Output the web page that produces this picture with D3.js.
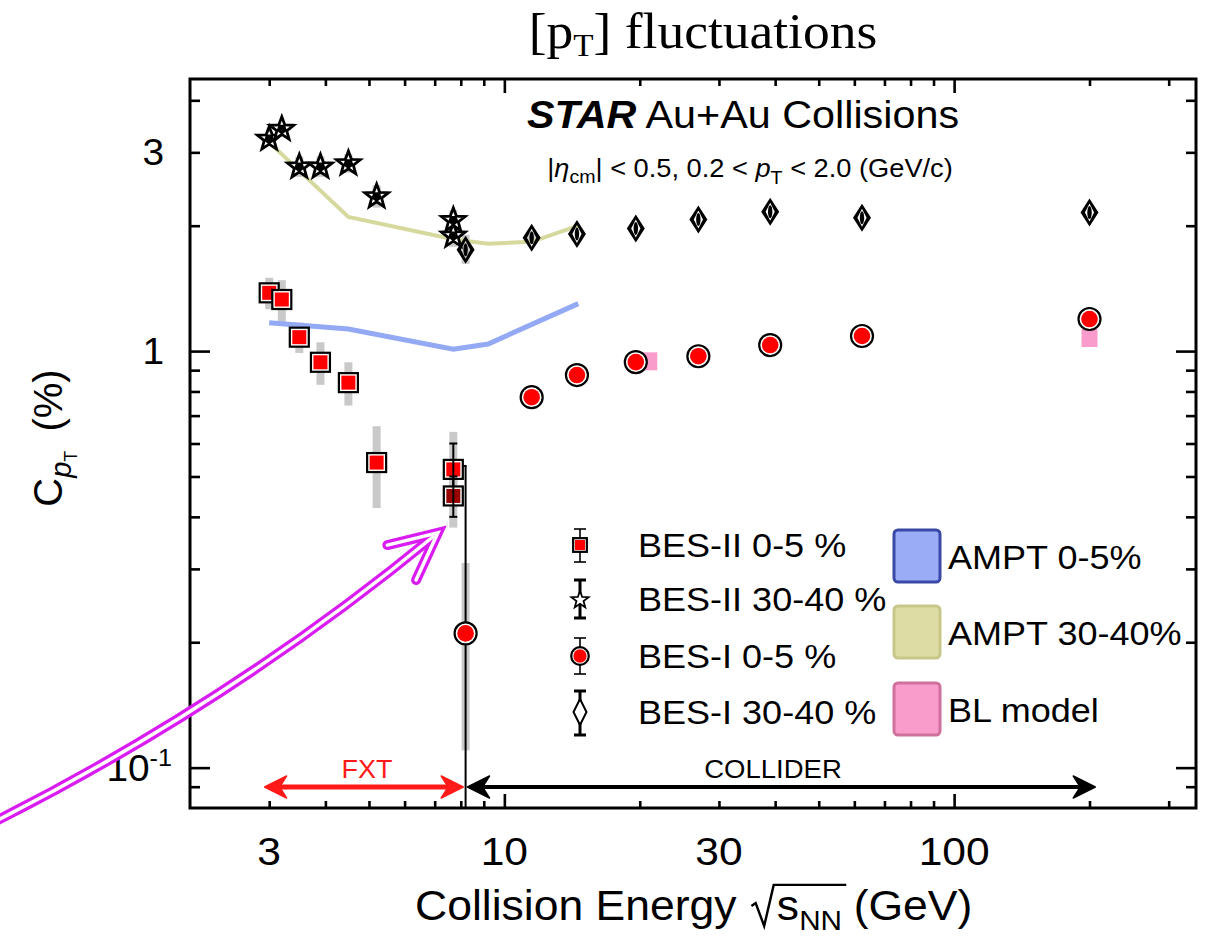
<!DOCTYPE html>
<html><head><meta charset="utf-8">
<script src="https://cdn.jsdelivr.net/npm/d3@7"></script>
<style>
body{margin:0;background:#fff}
svg{display:block}
text{font-family:"Liberation Sans",Arial,sans-serif;fill:#000}
</style>
</head><body>
<svg id="chart" width="1212" height="936"></svg>
<script>
// ---- data -------------------------------------------------------------
// BES-II 0-5 % (fixed target + 7.7 GeV)
const besII05_E   = [3.0, 3.2, 3.5, 3.9, 4.5, 5.2, 7.7];
const besII05_C   = [1.38, 1.33, 1.08, 0.94, 0.84, 0.54, 0.52];
const besII05_sysLo = [1.26, 1.17, 0.99, 0.83, 0.74, 0.42, 0.46];
const besII05_sysHi = [1.50, 1.48, 1.17, 1.05, 0.94, 0.66, 0.64];
const besII05_statLo = [null, null, null, null, null, null, 0.45];
const besII05_statHi = [null, null, null, null, null, null, 0.60];
// BES-II 0-5 % collider 7.7 GeV
const besII05col_E = [7.7];
const besII05col_C = [0.449];
const besII05col_sysLo = [0.377];
const besII05col_sysHi = [0.52];
const besII05col_statLo = [0.40];
const besII05col_statHi = [0.50];
// BES-II 30-40 %
const besII3040_E = [3.0, 3.2, 3.5, 3.9, 4.5, 5.2, 7.7, 7.7];
const besII3040_C = [3.23, 3.41, 2.77, 2.77, 2.82, 2.35, 2.06, 1.89];
const besII3040_sysLo = [3.15, 3.33, 2.62, 2.62, 2.68, 2.21, 1.94, 1.78];
const besII3040_sysHi = [3.32, 3.50, 2.93, 2.93, 2.97, 2.50, 2.18, 2.00];
// BES-I
const besI_E      = [8.2, 11.5, 14.5, 19.6, 27, 39, 62.4, 200];
const besI05_C    = [0.21, 0.775, 0.876, 0.941, 0.972, 1.034, 1.087, 1.194];
const besI05_sysLo = [0.11, null, null, null, null, null, null, null];
const besI05_sysHi = [0.31, null, null, null, null, null, null, null];
const besI05_statHi = [0.53, null, null, null, null, null, null, null];
const besI3040_C  = [1.75, 1.87, 1.91, 1.97, 2.07, 2.16, 2.09, 2.15];
const besI3040_sysLo = [1.62, 1.82, null, null, null, null, null, null];
const besI3040_sysHi = [1.90, 1.92, null, null, null, null, null, null];
// models
const ampt05_E   = [3.0, 4.5, 7.7, 9.2, 14.6];
const ampt05_C   = [1.17, 1.13, 1.01, 1.04, 1.30];
const ampt3040_E = [3.0, 4.5, 7.7, 9.2, 11.5, 14.6];
const ampt3040_C = [3.17, 2.10, 1.855, 1.81, 1.83, 2.0];
const bl_E = [21, 200];
const bl_C = [0.945, 1.075];
// axes
const xMinorTicks = [3,4,5,6,7,8,9,20,30,40,50,60,70,80,90,200,300];
const xMajorTicks = [10,100];
const xTickLabels = [3,10,30,100];
const yMinorTicks = [0.09,0.2,0.3,0.4,0.5,0.6,0.7,0.8,0.9,2,3,4];
const yMajorTicks = [0.1,1];
const yTickLabels = [["3",3],["1",1],["10","-1",0.1]];
const legendData = ["BES-II 0-5 %","BES-II 30-40 %","BES-I 0-5 %","BES-I 30-40 %"];
const legendModels = [["AMPT 0-5%","#9aacf6","#3a48a6"],["AMPT 30-40%","#dcdca4","#c7c78a"],["BL model","#f99ccb","#d0709c"]];

// ---- layout -----------------------------------------------------------
const L=190, R=1196, T=79, B=808;
const x = d3.scaleLog().domain([2,345]).range([L,R]);
const y = d3.scaleLog().domain([0.08,4.5]).range([B,T]);
const svg = d3.select("#chart");
const plot = svg.append("g");

const RED="#ff0000", DARKRED="#990000", GREY="#c9c9c9";

// text placed at (px,py), widened horizontally by sx
function stext(parent,px,py,sx,size,anchor){
  return parent.append("g").attr("transform",`translate(${px},${py}) scale(${sx},1)`)
    .append("text").attr("x",0).attr("y",0).attr("font-size",size).attr("text-anchor",anchor||"start");
}

// systematic bars
function sysBars(E, lo, hi){
  E.forEach((e,i)=>{
    if(lo[i]==null) return;
    plot.append("rect").attr("x",x(e)-4).attr("width",8)
      .attr("y",y(hi[i])).attr("height",y(lo[i])-y(hi[i])).attr("fill",GREY);
  });
}
sysBars(besII05_E,besII05_sysLo,besII05_sysHi);
sysBars(besII05col_E,besII05col_sysLo,besII05col_sysHi);
sysBars(besII3040_E,besII3040_sysLo,besII3040_sysHi);
sysBars(besI_E,besI05_sysLo,besI05_sysHi);
sysBars(besI_E,besI3040_sysLo,besI3040_sysHi);

// model curves
const line = d3.line().x(d=>x(d[0])).y(d=>y(d[1]));
plot.append("path").attr("d",line(d3.zip(ampt3040_E,ampt3040_C)))
  .attr("fill","none").attr("stroke","#d6d99e").attr("stroke-width",4);
plot.append("path").attr("d",line(d3.zip(ampt05_E,ampt05_C)))
  .attr("fill","none").attr("stroke","#93a9f3").attr("stroke-width",5);
bl_E.forEach((e,i)=>{
  plot.append("rect").attr("x",x(e)-8).attr("y",y(bl_C[i])-9)
    .attr("width",16).attr("height",18).attr("fill","#f99ccb");
});

// marker shapes
function starPath(R1,r1){
  let p=[];
  for(let k=0;k<10;k++){
    const a=-Math.PI/2+k*Math.PI/5, rr=k%2?r1:R1;
    p.push([rr*Math.cos(a),rr*Math.sin(a)]);
  }
  return "M"+p.map(q=>q.join(",")).join("L")+"Z";
}
function pentPath(r1){
  let p=[];
  for(let k=0;k<5;k++){
    const a=-Math.PI/2+Math.PI/5+k*2*Math.PI/5;
    p.push([r1*Math.cos(a),r1*Math.sin(a)]);
  }
  return "M"+p.map(q=>q.join(",")).join("L")+"Z";
}
function drawSquare(g,cx,cy,fill,s){
  s=s||1;
  g.append("rect").attr("x",cx-9.5*s).attr("y",cy-9.5*s).attr("width",19*s).attr("height",19*s)
    .attr("fill","#fff").attr("stroke","#000").attr("stroke-width",2.2);
  g.append("rect").attr("x",cx-7*s).attr("y",cy-7*s).attr("width",14*s).attr("height",14*s).attr("fill",fill);
}
function drawStar(g,cx,cy,s,hollow){
  s=s||1;
  g.append("path").attr("transform",`translate(${cx},${cy})`).attr("d",starPath(12.5*s,5.2*s))
    .attr("fill","#fff").attr("stroke","#000").attr("stroke-width",hollow?1.8:2.8).attr("stroke-linejoin","miter");
  if(!hollow) g.append("path").attr("transform",`translate(${cx},${cy})`).attr("d",pentPath(5.4*s)).attr("fill","#000");
}
function drawCircle(g,cx,cy,s){
  s=s||1;
  g.append("circle").attr("cx",cx).attr("cy",cy).attr("r",11*s).attr("fill","#fff").attr("stroke","#000").attr("stroke-width",2.2);
  g.append("circle").attr("cx",cx).attr("cy",cy).attr("r",8.3*s).attr("fill",RED);
}
function drawDiamond(g,cx,cy,s){
  s=s||1;
  const o=`M0,${-14*s}L${9*s},0L0,${14*s}L${-9*s},0Z`;
  const i=`M0,${-9*s}L${4.6*s},0L0,${9*s}L${-4.6*s},0Z`;
  g.append("path").attr("transform",`translate(${cx},${cy})`).attr("d",o+i).attr("fill-rule","evenodd").attr("fill","#000");
  g.append("ellipse").attr("cx",cx).attr("cy",cy).attr("rx",2.2*s).attr("ry",6.5*s).attr("fill","#000");
}
function errBar(g,cx,y1,y2,cap,w,capTop,capBot){
  g.append("line").attr("x1",cx).attr("x2",cx).attr("y1",y1).attr("y2",y2).attr("stroke","#000").attr("stroke-width",w);
  if(capTop!==false) g.append("line").attr("x1",cx-cap).attr("x2",cx+cap).attr("y1",y1).attr("y2",y1).attr("stroke","#000").attr("stroke-width",w);
  if(capBot!==false) g.append("line").attr("x1",cx-cap).attr("x2",cx+cap).attr("y1",y2).attr("y2",y2).attr("stroke","#000").attr("stroke-width",w);
}

// BES-I 0-5 % stat error reaching below the frame (lower edge below zero)
besI_E.forEach((e,i)=>{
  if(besI05_statHi[i]==null) return;
  plot.append("line").attr("x1",x(e)).attr("x2",x(e)).attr("y1",y(besI05_statHi[i])).attr("y2",B)
    .attr("stroke","#000").attr("stroke-width",2);
  plot.append("line").attr("x1",x(e)-4).attr("x2",x(e)+1).attr("y1",y(besI05_statHi[i])).attr("y2",y(besI05_statHi[i]))
    .attr("stroke","#000").attr("stroke-width",2);
});

// BES-II 30-40 %
besII3040_E.forEach((e,i)=>drawStar(plot,x(e),y(besII3040_C[i])));
// BES-I 30-40 %
besI_E.forEach((e,i)=>drawDiamond(plot,x(e),y(besI3040_C[i])));
// BES-I 0-5 %
besI_E.forEach((e,i)=>drawCircle(plot,x(e),y(besI05_C[i])));
// BES-II 0-5 %
besII05_E.forEach((e,i)=>{
  drawSquare(plot,x(e),y(besII05_C[i]),RED);
  if(besII05_statHi[i]!=null) errBar(plot,x(e),y(besII05_statHi[i]),y(besII05_statLo[i]),4,2);
});
besII05col_E.forEach((e,i)=>{
  drawSquare(plot,x(e),y(besII05col_C[i]),DARKRED);
  errBar(plot,x(e),y(besII05col_statHi[i]),y(besII05col_statLo[i]),4,2);
});

// ---- frame and ticks --------------------------------------------------
function ticks(gen,vals,size,tr){
  const g=svg.append("g").attr("transform",tr)
    .call(gen.tickValues(vals).tickSize(size).tickSizeOuter(0).tickFormat(""));
  g.select(".domain").remove();
  g.selectAll("line").attr("stroke","#000").attr("stroke-width",2.6);
}
ticks(d3.axisBottom(x),xMinorTicks,-7,`translate(0,${B})`);
ticks(d3.axisBottom(x),xMajorTicks,-14,`translate(0,${B})`);
ticks(d3.axisTop(x),xMinorTicks,-7,`translate(0,${T})`);
ticks(d3.axisTop(x),xMajorTicks,-14,`translate(0,${T})`);
ticks(d3.axisLeft(y),yMinorTicks,-10,`translate(${L},0)`);
ticks(d3.axisLeft(y),yMajorTicks,-20,`translate(${L},0)`);
ticks(d3.axisRight(y),yMinorTicks,-10,`translate(${R},0)`);
ticks(d3.axisRight(y),yMajorTicks,-20,`translate(${R},0)`);
svg.append("rect").attr("x",L).attr("y",T).attr("width",R-L).attr("height",B-T)
  .attr("fill","none").attr("stroke","#000").attr("stroke-width",3);

// tick labels
xTickLabels.forEach(v=>{
  stext(svg,x(v),865,1.12,38,"middle").text(v);
});
yTickLabels.forEach(d=>{
  const sup=d.length===3;
  const t=stext(svg,sup?172:164,y(d[d.length-1])+13,1.05,37,"end");
  t.append("tspan").text(d[0]);
  if(sup) t.append("tspan").attr("font-size",24).attr("dy",-15).text(d[1]);
});

// axis titles
const yt=svg.append("text").attr("transform","translate(62,438) rotate(-90)").attr("text-anchor","middle").attr("font-size",40);
yt.append("tspan").text("C");
yt.append("tspan").attr("font-style","italic").attr("font-size",29).attr("dy",9).text("p");
yt.append("tspan").attr("font-size",18).attr("dy",6).text("T");
yt.append("tspan").attr("font-size",40).attr("dy",-15).text("\u2009 (%)");

{
  const xt=stext(svg,415,920,1.06,42,"start");
  xt.append("tspan").attr("x",0).text("Collision Energy");
  xt.append("tspan").attr("dx",38).text("s");
  xt.append("tspan").attr("font-size",28).attr("dy",10).text("NN");
  xt.append("tspan").attr("dy",-10).attr("dx",11).text("(GeV)");
  const n=xt.node();
  const eN=n.getExtentOfChar(18), eS=n.getExtentOfChar(16);
  const rx=eS.x-24, top=eS.y+eS.height*0.06;
  d3.select(n.parentNode).append("path")
    .attr("d",`M${rx},-14L${rx+4},-17L${rx+12},6L${rx+21},${top}H${eN.x+eN.width+4}`)
    .attr("fill","none").attr("stroke","#000").attr("stroke-width",2.3);
}

// title
{
  const tt=stext(svg,703,48,1.07,50,"middle").style("font-family","Liberation Serif");
  tt.append("tspan").text("[p");
  tt.append("tspan").attr("font-size",31).attr("dy",8).text("T");
  tt.append("tspan").attr("dy",-8).text("] fluctuations");
}

// STAR header
{
  const st=stext(svg,743,128,1.06,39,"middle");
  st.append("tspan").attr("font-weight","bold").attr("font-style","italic").text("STAR");
  st.append("tspan").text(" Au+Au Collisions");
  const sb=stext(svg,750,177,1.09,25,"middle");
  sb.append("tspan").text("|");
  sb.append("tspan").attr("font-style","italic").text("\u03b7");
  sb.append("tspan").attr("font-size",18).attr("dy",6).text("cm");
  sb.append("tspan").attr("dy",-6).text("| < 0.5, 0.2 < ");
  sb.append("tspan").attr("font-style","italic").text("p");
  sb.append("tspan").attr("font-size",18).attr("dy",7).text("T");
  sb.append("tspan").attr("dy",-7).text(" < 2.0 (GeV/c)");
}

// ---- legend -----------------------------------------------------------
const lg=svg.append("g");
const legY=[545,599,656,712];
legendData.forEach((t,i)=>{
  stext(lg,638,legY[i]+12,1.06,34,"start").text(t);
});
errBar(lg,580,legY[0]-16,legY[0]+17,6,1.6);
drawSquare(lg,580,legY[0],RED,0.72);
errBar(lg,580,legY[1]-19,legY[1]+19,6,3);
drawStar(lg,580,legY[1]+1,0.72,true);
errBar(lg,580,legY[2]-18,legY[2]+18,6,1.6);
drawCircle(lg,580,legY[2],0.8);
errBar(lg,580,legY[3]-21,legY[3]+23,6,3);
lg.append("path").attr("transform",`translate(580,${legY[3]})`).attr("d","M0,-13L6.5,0L0,13L-6.5,0Z")
  .attr("fill","#fff").attr("stroke","#000").attr("stroke-width",2);
const boxY=[530,606,683];
legendModels.forEach((d,i)=>{
  lg.append("rect").attr("x",894).attr("y",boxY[i]).attr("width",46).attr("height",52).attr("rx",4)
    .attr("fill",d[1]).attr("stroke",d[2]).attr("stroke-width",3);
  stext(lg,948,boxY[i]+39,1.06,34,"start").text(d[0]);
});

// ---- energy ranges ----------------------------------------------------
function dblArrow(x1,x2,yy,col,w){
  const g=svg.append("g");
  g.append("line").attr("x1",x1+8).attr("x2",x2-8).attr("y1",yy).attr("y2",yy).attr("stroke",col).attr("stroke-width",w);
  const head=(xt,dir)=>g.append("path")
    .attr("d",`M${xt},${yy}L${xt+dir*22},${yy-11}L${xt+dir*15},${yy}L${xt+dir*22},${yy+11}Z`)
    .attr("fill",col).attr("stroke",col).attr("stroke-width",1.5).attr("stroke-linejoin","round");
  head(x1,1); head(x2,-1);
}
dblArrow(x(2.93),x(8.1),787,"#ff1a1a",5);
dblArrow(x(8.28),x(206),787,"#000",4);
stext(svg,367,778,1.08,25,"middle").style("fill","#ff1a1a").text("FXT");
stext(svg,773,778,1.1,25,"middle").text("COLLIDER");

// ---- pointer ----------------------------------------------------------
{
  const P0=[-6,822],P1=[232,702],P2=[434,536];
  const dx=P2[0]-P1[0], dy=P2[1]-P1[1], len=Math.hypot(dx,dy), ux=dx/len, uy=dy/len;
  const tip=[P2[0]+ux*5,P2[1]+uy*5];
  const rot=(a)=>[ -ux*Math.cos(a)+uy*Math.sin(a), -uy*Math.cos(a)-ux*Math.sin(a) ];
  const a1=rot(0.45), a2=rot(-0.45);
  const arm=52;
  const head=`M${tip[0]+a1[0]*arm},${tip[1]+a1[1]*arm}L${tip[0]},${tip[1]}L${tip[0]+a2[0]*arm},${tip[1]+a2[1]*arm}`;
  const shaft=`M${P0[0]},${P0[1]}Q${P1[0]},${P1[1]} ${P2[0]},${P2[1]}`;
  const g=svg.append("g");
  [[10,"#d91cf2"],[3.5,"#fff"]].forEach(([w,c])=>{
    g.append("path").attr("d",shaft).attr("fill","none").attr("stroke",c).attr("stroke-width",w);
    g.append("path").attr("d",head).attr("fill","none").attr("stroke",c).attr("stroke-width",w)
      .attr("stroke-linejoin","miter").attr("stroke-linecap","round");
  });
}
</script>
</body></html>
